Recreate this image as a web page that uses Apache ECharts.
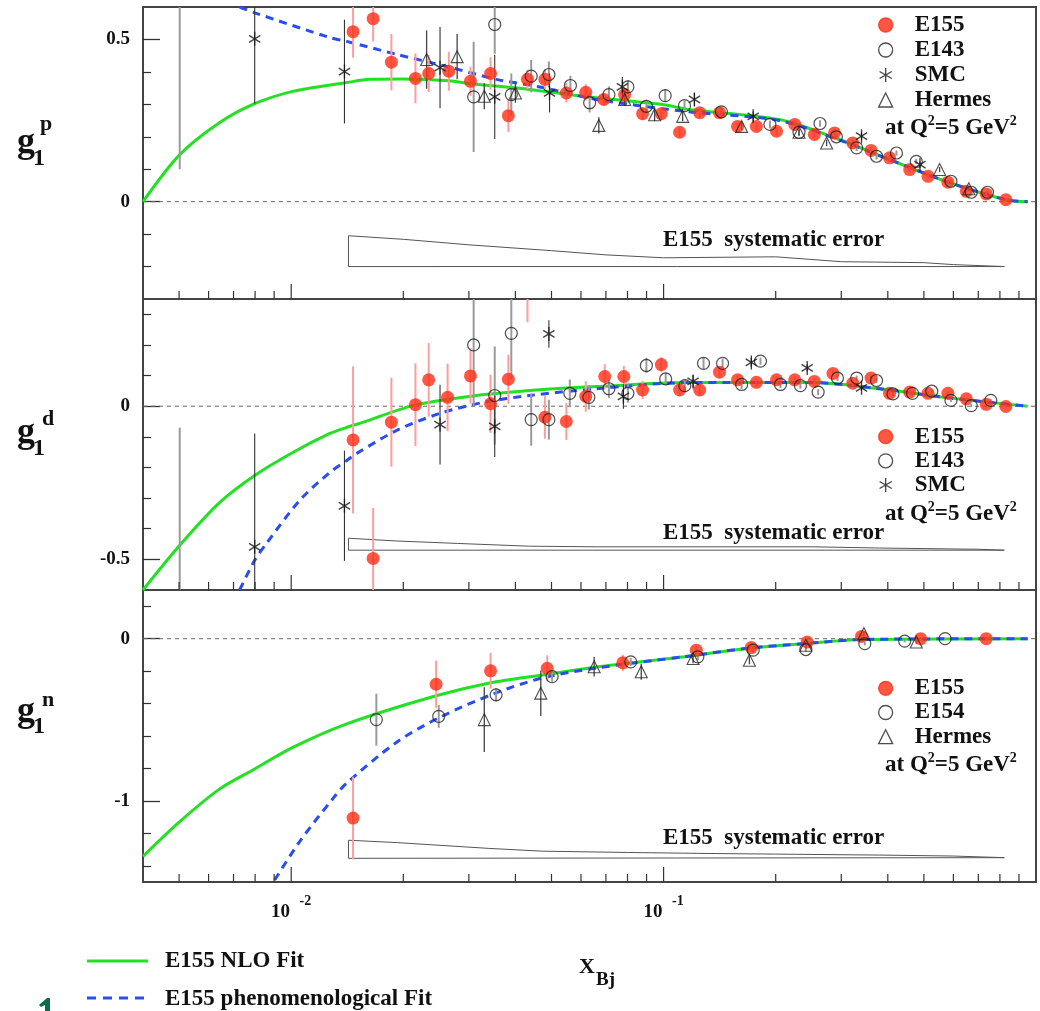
<!DOCTYPE html>
<html><head><meta charset="utf-8">
<script src="https://cdn.jsdelivr.net/npm/echarts@6/dist/echarts.min.js"></script>
<style>html,body{margin:0;padding:0;background:#fff}#c{width:1040px;height:1011px}</style>
</head><body><div id="c"></div>
<script>
const FONT = '"Liberation Serif","Times New Roman",serif';

// ---------- tick values ----------
const xMajorTicks = [0.01, 0.1];
const xMinorTicks = [0.005,0.006,0.007,0.008,0.009,0.02,0.03,0.04,0.05,0.06,0.07,0.08,0.09,0.2,0.3,0.4,0.5,0.6,0.7,0.8,0.9];
const pYMajor = [0, 0.5], pYMinor = [-0.2,-0.1,0.1,0.2,0.3,0.4];
const dYMajor = [0, -0.5], dYMinor = [0.3,0.2,0.1,-0.1,-0.2,-0.3,-0.4];
const nYMajor = [0, -1], nYMinor = [0.2,-0.2,-0.4,-0.6,-0.8,-1.2,-1.4];

// ---------- g1 proton : [x, g1, error] ----------
const pE155 = [[0.01466,0.524,0.08],[0.0166,0.564,0.07],[0.01858,0.43,0.087],[0.02156,0.38,0.077],[0.0234,0.395,0.057],[0.0265,0.402,0.06],[0.0303,0.371,0.045],[0.0343,0.395,0.05],[0.0383,0.265,0.05],[0.0431,0.377,0.03],[0.048,0.377,0.03],[0.0548,0.335,0.03],[0.0618,0.337,0.025],[0.0691,0.315,0.02],[0.0786,0.33,0.02],[0.0878,0.271,0.02],[0.0986,0.271,0.02],[0.1104,0.214,0.015],[0.125,0.274,0.015],[0.1413,0.274,0.015],[0.158,0.232,0.012],[0.1775,0.232,0.012],[0.201,0.217,0.012],[0.225,0.238,0.012],[0.254,0.207,0.01],[0.2877,0.212,0.01],[0.322,0.181,0.01],[0.3606,0.158,0.01],[0.4044,0.135,0.01],[0.458,0.099,0.008],[0.513,0.078,0.008],[0.58,0.06,0.006],[0.65,0.032,0.006],[0.735,0.024,0.005],[0.83,0.006,0.004]];
const pE143 = [[0.00502,0.75,0.65],[0.0309,0.323,0.17],[0.0352,0.546,0.09],[0.039,0.33,0.065],[0.0441,0.387,0.05],[0.0492,0.392,0.04],[0.0562,0.358,0.03],[0.0633,0.305,0.03],[0.0713,0.33,0.025],[0.0802,0.354,0.02],[0.0899,0.294,0.02],[0.101,0.327,0.02],[0.1138,0.296,0.015],[0.143,0.277,0.015],[0.193,0.238,0.012],[0.231,0.214,0.012],[0.263,0.241,0.01],[0.291,0.2,0.01],[0.33,0.166,0.01],[0.373,0.14,0.01],[0.422,0.15,0.008],[0.477,0.124,0.008],[0.591,0.063,0.006],[0.67,0.029,0.005],[0.741,0.029,0.005]];
const pSMC = [[0.00798,0.502,0.2],[0.0139,0.401,0.16],[0.0251,0.413,0.125],[0.0352,0.323,0.13],[0.0494,0.335,0.06],[0.0775,0.354,0.03],[0.121,0.315,0.02],[0.174,0.263,0.015],[0.34,0.202,0.012],[0.488,0.114,0.01]];
const pHermes = [[0.0231,0.438,0.09],[0.0279,0.447,0.07],[0.033,0.325,0.04],[0.04,0.335,0.03],[0.067,0.235,0.025],[0.0786,0.315,0.02],[0.0946,0.268,0.02],[0.1125,0.263,0.015],[0.162,0.232,0.012],[0.231,0.214,0.01],[0.274,0.181,0.01],[0.551,0.099,0.008],[0.66,0.04,0.006]];
const pNLO = [[0.004,0],[0.00502,0.145],[0.00643,0.244],[0.00798,0.302],[0.0101,0.34],[0.0141,0.367],[0.01625,0.377],[0.02,0.378],[0.0266,0.373],[0.0301,0.364],[0.0437,0.346],[0.066,0.32],[0.1,0.299],[0.117,0.284],[0.2045,0.253],[0.297,0.191],[0.404,0.13],[0.575,0.062],[0.83,0.006],[0.95,0]];
const pPheno = [[0.00727,0.6],[0.00798,0.582],[0.0127,0.506],[0.0141,0.494],[0.0192,0.454],[0.0261,0.417],[0.0356,0.377],[0.0473,0.352],[0.066,0.315],[0.117,0.277],[0.2045,0.25],[0.297,0.19],[0.404,0.13],[0.575,0.062],[0.83,0.006],[0.95,0]];
const pBandX = [0.01425,0.02,0.03,0.05,0.07,0.1,0.2,0.3,0.5,0.6,0.822];
const pBandTop = [-0.105,-0.116,-0.133,-0.151,-0.164,-0.173,-0.17,-0.185,-0.188,-0.194,-0.2];
const pBandBase = -0.2;

// ---------- g1 deuteron ----------
const dE155 = [[0.01466,-0.11,0.24],[0.0166,-0.497,0.165],[0.01858,-0.052,0.145],[0.02156,0.005,0.135],[0.0234,0.086,0.12],[0.0263,0.029,0.11],[0.0303,0.099,0.09],[0.0343,0.008,0.095],[0.0383,0.088,0.08],[0.0431,0.45,0.176],[0.048,-0.036,0.07],[0.0548,-0.05,0.06],[0.0618,0.032,0.05],[0.0695,0.097,0.04],[0.0782,0.097,0.035],[0.0878,0.053,0.03],[0.0986,0.136,0.025],[0.1104,0.053,0.02],[0.125,0.053,0.02],[0.1413,0.111,0.018],[0.158,0.086,0.015],[0.1775,0.078,0.015],[0.201,0.086,0.012],[0.225,0.086,0.012],[0.254,0.081,0.01],[0.285,0.107,0.01],[0.322,0.075,0.01],[0.3606,0.092,0.008],[0.4044,0.042,0.008],[0.458,0.046,0.007],[0.513,0.042,0.006],[0.58,0.042,0.006],[0.65,0.024,0.005],[0.735,0.006,0.004],[0.83,-0.001,0.004]];
const dE143 = [[0.00502,-0.75,0.68],[0.0309,0.2,0.2],[0.0352,0.035,0.16],[0.039,0.238,0.15],[0.0441,-0.044,0.085],[0.0492,-0.044,0.065],[0.056,0.042,0.045],[0.063,0.029,0.04],[0.0713,0.057,0.03],[0.0802,0.042,0.03],[0.0899,0.133,0.025],[0.1013,0.089,0.02],[0.114,0.067,0.02],[0.128,0.14,0.018],[0.144,0.14,0.015],[0.162,0.071,0.015],[0.182,0.147,0.012],[0.206,0.071,0.012],[0.233,0.067,0.01],[0.26,0.046,0.01],[0.293,0.092,0.01],[0.33,0.092,0.008],[0.373,0.084,0.008],[0.413,0.04,0.007],[0.466,0.042,0.006],[0.525,0.049,0.006],[0.591,0.019,0.005],[0.67,0.002,0.005],[0.756,0.019,0.004]];
const dSMC = [[0.00798,-0.459,0.37],[0.0139,-0.325,0.18],[0.0251,-0.06,0.13],[0.0352,-0.066,0.1],[0.0492,0.236,0.045],[0.078,0.032,0.04],[0.12,0.081,0.02],[0.172,0.143,0.015],[0.243,0.125,0.012],[0.34,0.06,0.01]];
const dNLO = [[0.004,-0.6],[0.00502,-0.454],[0.00643,-0.314],[0.00798,-0.226],[0.0101,-0.151],[0.0127,-0.089],[0.0141,-0.069],[0.01556,-0.053],[0.0212,0.002],[0.0301,0.032],[0.0437,0.051],[0.066,0.064],[0.117,0.077],[0.25,0.077],[0.38,0.057],[0.575,0.028],[0.95,0]];
const dPheno = [[0.00727,-0.6],[0.00798,-0.503],[0.00859,-0.447],[0.01055,-0.307],[0.0127,-0.216],[0.0141,-0.177],[0.015,-0.154],[0.0192,-0.079],[0.025,-0.024],[0.0327,0.012],[0.0437,0.035],[0.066,0.057],[0.117,0.077],[0.25,0.077],[0.38,0.057],[0.575,0.028],[0.95,0]];
const dBandX = [0.01425,0.0192,0.028,0.0437,0.066,0.14,0.25,0.38,0.7,0.822];
const dBandTop = [-0.431,-0.44,-0.448,-0.457,-0.459,-0.459,-0.459,-0.463,-0.467,-0.47];
const dBandBase = -0.47;

// ---------- g1 neutron ----------
const nE155 = [[0.01466,-1.106,0.255],[0.0245,-0.281,0.145],[0.0343,-0.198,0.11],[0.0487,-0.183,0.08],[0.0777,-0.149,0.05],[0.1224,-0.071,0.03],[0.172,-0.055,0.025],[0.243,-0.021,0.02],[0.34,0.014,0.015],[0.49,0,0.01],[0.735,0,0.008]];
const nE154 = [[0.01693,-0.499,0.16],[0.0249,-0.479,0.07],[0.0355,-0.346,0.04],[0.0502,-0.234,0.03],[0.0816,-0.143,0.025],[0.1236,-0.112,0.02],[0.174,-0.071,0.015],[0.241,-0.067,0.012],[0.347,-0.031,0.01],[0.444,-0.015,0.008],[0.57,0,0.006]];
const nHermes = [[0.033,-0.499,0.2],[0.0468,-0.336,0.14],[0.0651,-0.173,0.06],[0.0871,-0.204,0.05],[0.12,-0.122,0.03],[0.17,-0.133,0.025],[0.241,-0.041,0.02],[0.345,0.031,0.015],[0.477,-0.021,0.01]];
const nNLO = [[0.004,-1.342],[0.00502,-1.128],[0.00643,-0.926],[0.00798,-0.803],[0.0101,-0.67],[0.0141,-0.525],[0.0245,-0.352],[0.0341,-0.273],[0.0473,-0.224],[0.066,-0.175],[0.115,-0.11],[0.167,-0.06],[0.24,-0.03],[0.34,-0.005],[0.95,0]];
const nPheno = [[0.00903,-1.488],[0.01055,-1.249],[0.0129,-0.99],[0.0141,-0.89],[0.0192,-0.638],[0.025,-0.486],[0.0356,-0.333],[0.0473,-0.242],[0.066,-0.181],[0.115,-0.11],[0.167,-0.06],[0.24,-0.03],[0.34,-0.005],[0.95,0]];
const nBandX = [0.01425,0.0192,0.034,0.0473,0.08,0.13,0.2,0.38,0.6,0.822];
const nBandTop = [-1.2425,-1.257,-1.293,-1.31,-1.318,-1.324,-1.328,-1.334,-1.34,-1.35];
const nBandBase = -1.354;

// ---------- layout / styles ----------
const grids = [
  {left:143, top:7, width:893, height:292},
  {left:143, top:299, width:893, height:291},
  {left:143, top:590, width:893, height:292}
];
const yRanges = [[-0.3,0.6],[-0.6,0.35],[-1.5,0.3]];
const yMajors = [pYMajor, dYMajor, nYMajor];
const yMinors = [pYMinor, dYMinor, nYMinor];

const RED = '#ff2d14', GREEN = '#22e022', BLUE = '#2a4df0';
const ASTER = 'path://M0,-10L0,10M-8.66,-5L8.66,5M-8.66,5L8.66,-5';
const styles = {
  E155:   {symbol:'circle', size:13, item:{color:RED, borderColor:RED, borderWidth:0}, bar:'#ff9c9c', bw:2},
  E143:   {symbol:'circle', size:12, item:{color:'rgba(0,0,0,0)', borderColor:'#222', borderWidth:1.2}, bar:'#9a9a9a', bw:2},
  E154:   {symbol:'circle', size:12, item:{color:'rgba(0,0,0,0)', borderColor:'#222', borderWidth:1.2}, bar:'#9a9a9a', bw:2},
  SMC:    {symbol:ASTER, size:[13,14], item:{color:'rgba(0,0,0,0)', borderColor:'#111', borderWidth:1.4}, bar:'#333', bw:1.1},
  Hermes: {symbol:'triangle', size:12, item:{color:'rgba(0,0,0,0)', borderColor:'#222', borderWidth:1.1}, bar:'#444', bw:1.3}
};

const panels = [
  {sets:[['E155',pE155],['E143',pE143],['SMC',pSMC],['Hermes',pHermes]], nlo:pNLO, pheno:pPheno, bx:pBandX, bt:pBandTop, bb:pBandBase},
  {sets:[['E155',dE155],['E143',dE143],['SMC',dSMC]], nlo:dNLO, pheno:dPheno, bx:dBandX, bt:dBandTop, bb:dBandBase},
  {sets:[['E155',nE155],['E154',nE154],['Hermes',nHermes]], nlo:nNLO, pheno:nPheno, bx:nBandX, bt:nBandTop, bb:nBandBase}
];

function tickSeries(gi, vals, len) {
  return {type:'custom', xAxisIndex:gi, yAxisIndex:2*gi, silent:true, z:6,
    data: vals.map(v => [v, 0]),
    renderItem:(params, api) => {
      const cs = params.coordSys;
      const x = api.coord([api.value(0), 0])[0];
      const yb = cs.y + cs.height;
      return {type:'line', shape:{x1:x, y1:yb, x2:x, y2:yb-len}, style:{stroke:'#333', lineWidth:1.2}};
    }};
}
function errSeries(gi, data, color, width) {
  return {type:'custom', xAxisIndex:gi, yAxisIndex:2*gi, silent:true, z:3,
    data: data.map(d => [d[0], d[1]-d[2], d[1]+d[2]]),
    encode:{x:0, y:[1,2]},
    renderItem:(params, api) => {
      const cs = params.coordSys;
      const a = api.coord([api.value(0), api.value(1)]);
      const b = api.coord([api.value(0), api.value(2)]);
      const top = cs.y, bot = cs.y + cs.height;
      const y1 = Math.max(top, Math.min(bot, a[1]));
      const y2 = Math.max(top, Math.min(bot, b[1]));
      if (Math.abs(y1 - y2) < 0.5) return null;
      return {type:'line', shape:{x1:a[0], y1:y1, x2:a[0], y2:y2}, style:{stroke:color, lineWidth:width}};
    }};
}

const series = [];
panels.forEach((p, gi) => {
  series.push({type:'line', xAxisIndex:gi, yAxisIndex:2*gi, silent:true, symbol:'none', z:1,
    data:[[0.004,0],[1,0]], lineStyle:{color:'#666', width:1, type:[4,4]}});
  const poly = [[p.bx[0], p.bb]].concat(p.bx.map((x,i)=>[x, p.bt[i]])).concat([[p.bx[p.bx.length-1], p.bb],[p.bx[0], p.bb]]);
  series.push({type:'line', xAxisIndex:gi, yAxisIndex:2*gi, silent:true, symbol:'none', z:1,
    data:poly, lineStyle:{color:'#555', width:1}});
  series.push(tickSeries(gi, xMajorTicks, 15));
  series.push(tickSeries(gi, xMinorTicks, 8));
  p.sets.forEach(([name, data]) => series.push(errSeries(gi, data, styles[name].bar, styles[name].bw)));
  series.push({name:'E155 NLO Fit', type:'line', xAxisIndex:gi, yAxisIndex:2*gi, symbol:'none', smooth:0.3, z:2,
    data:p.nlo, lineStyle:{color:GREEN, width:3}, itemStyle:{color:GREEN}});
  series.push({name:'E155 phenomenological Fit', type:'line', xAxisIndex:gi, yAxisIndex:2*gi, symbol:'none', smooth:0.3, z:2,
    data:p.pheno, lineStyle:{color:BLUE, width:3, type:[8,6]}, itemStyle:{color:BLUE}});
  p.sets.forEach(([name, data]) => {
    const s = styles[name];
    series.push({name:name, type:'scatter', xAxisIndex:gi, yAxisIndex:2*gi, clip:true, z:4,
      symbol:s.symbol, symbolSize:s.size, symbolKeepAspect:true, itemStyle:s.item, data:data.map(d=>[d[0], d[1]])});
  });
});

const xAxis = grids.map((g, i) => ({
  gridIndex:i, type:'log', logBase:10, min:0.004, max:1, position:'bottom',
  axisLine:{show:false}, axisTick:{show:false}, splitLine:{show:false}, minorTick:{show:false},
  axisLabel:{show:i===2, margin:12, showMinLabel:false, showMaxLabel:false,
    fontSize:19, fontFamily:FONT, fontWeight:'bold', color:'#111',
    formatter: v => { const e = Math.log10(v), r = Math.round(e);
      if (Math.abs(e-r) > 1e-6 || r < -2 || r > -1) return '';
      return '{b|10}  {s|' + r + '}'; },
    rich:{ b:{fontSize:19, fontWeight:'bold', fontFamily:FONT, color:'#111', verticalAlign:'bottom', lineHeight:28},
           s:{fontSize:14, fontWeight:'bold', fontFamily:FONT, color:'#111', verticalAlign:'top', lineHeight:14} } }
}));

const yAxis = [];
grids.forEach((g, i) => {
  yAxis.push({gridIndex:i, type:'value', min:yRanges[i][0], max:yRanges[i][1], position:'left',
    axisLine:{show:false}, splitLine:{show:false},
    axisTick:{show:true, inside:true, length:17, customValues:yMajors[i], lineStyle:{color:'#333', width:1.3}},
    axisLabel:{show:true, customValues:yMajors[i], margin:13, fontSize:19, fontFamily:FONT, fontWeight:'bold', color:'#111',
      formatter: v => String(v)}});
  yAxis.push({gridIndex:i, type:'value', min:yRanges[i][0], max:yRanges[i][1], position:'left', offset:0,
    axisLine:{show:false}, splitLine:{show:false}, axisLabel:{show:false},
    axisTick:{show:true, inside:true, length:8, customValues:yMinors[i], lineStyle:{color:'#333', width:1.2}}});
});

const legendText = {fontFamily:FONT, fontWeight:'bold', fontSize:23, lineHeight:21, color:'#111', padding:[0,0,0,17]};
const legBase = {left:878, orient:'vertical', padding:0, itemWidth:14, itemHeight:14, selectedMode:false,
  textStyle:legendText, itemStyle:{borderWidth:1.3}};
const legend = [
  Object.assign({}, legBase, {top:13.5, itemGap:2, data:['E155','E143','SMC','Hermes']}),
  Object.assign({}, legBase, {top:425.2, itemGap:1.15, data:['E155','E143','SMC']}),
  Object.assign({}, legBase, {top:676.8, itemGap:1.2, data:['E155','E154','Hermes']})
];

function txt(x, y, text, size, extra) {
  return Object.assign({type:'text', x:x, y:y, silent:true,
    style:{text:text, fontSize:size, fontWeight:'bold', fontFamily:FONT, fill:'#111', align:'left', verticalAlign:'middle'}}, extra||{});
}
const qRich = {a:{fontSize:23, fontWeight:'bold', fontFamily:FONT, fill:'#111', verticalAlign:'bottom', lineHeight:25},
               s:{fontSize:14, fontWeight:'bold', fontFamily:FONT, fill:'#111', verticalAlign:'top', lineHeight:14}};
function qText(y) {
  return {type:'text', x:885, y:y, silent:true,
    style:{text:'{a|at Q}{s|2}{a|=5 GeV}{s|2}', rich:qRich, align:'left', verticalAlign:'middle'}};
}
const graphic = [
  txt(17, 142.5, 'g', 36), txt(33, 159, '1', 24), txt(40, 124.6, 'p', 22),
  txt(17, 432.5, 'g', 36), txt(33, 449, '1', 24), txt(42, 419.6, 'd', 22),
  txt(17, 711.5, 'g', 36), txt(33, 727, '1', 24), txt(42, 700.6, 'n', 22),
  txt(663, 240, 'E155  systematic error', 23),
  txt(663, 533, 'E155  systematic error', 23),
  txt(663, 838, 'E155  systematic error', 23),
  qText(127), qText(512.7), qText(764),
  txt(579, 967, 'X', 22), txt(596, 980, 'Bj', 19),
  {type:'line', silent:true, shape:{x1:87, y1:961, x2:148, y2:961}, style:{stroke:GREEN, lineWidth:3}},
  {type:'line', silent:true, shape:{x1:87, y1:998, x2:148, y2:998}, style:{stroke:BLUE, lineWidth:3, lineDash:[9,7]}},
  txt(165, 961, 'E155 NLO Fit', 23),
  txt(165, 999, 'E155 phenomenological Fit', 23),
  {type:'polygon', silent:true, shape:{points:[[39,1005],[47,998],[50,998],[50,1011],[45,1011],[45,1005],[41,1007]]}, style:{fill:'#0b6b4a'}}
];

const chart = echarts.init(document.getElementById('c'));
chart.setOption({
  animation:false,
  backgroundColor:'#fff',
  grid: grids.map(g => Object.assign({show:true, borderColor:'#444', borderWidth:2, backgroundColor:'rgba(0,0,0,0)', containLabel:false}, g)),
  xAxis, yAxis, legend, series, graphic
});
</script>
</body></html>
